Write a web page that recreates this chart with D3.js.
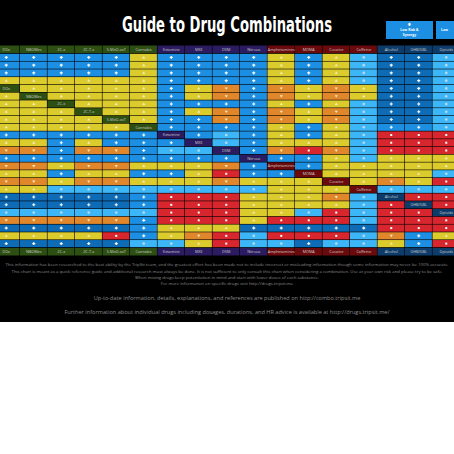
<!DOCTYPE html>
<html>
<head>
<meta charset="utf-8">
<script src="https://cdn.jsdelivr.net/npm/d3@7"></script>
<style>
  body { margin: 0; background: #fff; }
  svg { display: block; }
</style>
</head>
<body>
<svg id="chart" width="454" height="454"></svg>
<script>
// visible columns (left and right ends of the chart are cropped)
const cols = ["DOx", "NBOMes", "2C-x", "2C-T-x", "5-MeO-xxT", "Cannabis", "Ketamine", "MXE", "DXM",
  "Nitrous", "Amphetamines", "MDMA", "Cocaine", "Caffeine", "Alcohol", "GHB/GBL", "Opioids"]
const colGroup = ["psy", "psy", "psy", "psy", "psy", "psy", "dis", "dis", "dis",
  "dis", "stim", "stim", "stim", "stim", "dep", "dep", "dep"]
const rows = ["LSD", "Mushrooms", "DMT", "Mescaline", "DOx", "NBOMes", "2C-x", "2C-T-x", "5-MeO-xxT",
  "Cannabis", "Ketamine", "MXE", "DXM", "Nitrous", "Amphetamines", "MDMA", "Cocaine", "Caffeine",
  "Alcohol", "GHB/GBL", "Opioids", "Tramadol", "Benzodiazepines", "MAOIs", "SSRIs"]
// S synergy, N no synergy, D decrease, C caution, U unsafe, X dangerous, "-" same drug
const grid = [
  "SSSSSCSSSSCSCNDDN",
  "SSSSSCSSSSCSCNDDN",
  "SSSSSCSSSSCSCNDDN",
  "CCCCCCSSSSCSCNDDN",
  "-CCCCCSCUSUCUCDDN",
  "C-CCCCSCUSUCUCDDN",
  "CC-CCCSSSSCSCNDDN",
  "CCC-CCSCUSUCUNDDN",
  "CCCC-CSSUSUCUNDDN",
  "CCCCC-SSSSCSCNSSN",
  "SSSSSS-SNSCSCNXXX",
  "CCSCSSS-NSCCCNXXX",
  "UUSUUSNN-SUXUNXXX",
  "SSSSSSSSS-SSCNCCC",
  "UUCUUCCCUS-SCCCCC",
  "CCSCCSSCXSS-CCCCN",
  "UUCUUCCCUCCC-CUCX",
  "CCNNNNNNNNCCC-NNN",
  "DDDDDSXXXCCCUN-XX",
  "DDDDDSXXXCCCCNX-X",
  "NNNNNNXXXCCNXNXX-",
  "UUUUUSXXXCXXXNXXX",
  "DDDDDSCCCDDDDDXXX",
  "CCCCXSCUXNXXXNUSC",
  "DDDDDNNCXNNDNNCSX"
]
const fills = { S: "#1c8fe2", N: "#3db6f8", D: "#0e6bb6", C: "#dccb2c", U: "#e0872c", X: "#d8262e" }
const groupFill = { psy: "#2e4f12", dis: "#2b1b60", stim: "#6b0a0c", dep: "#0d3c6a" }

const svg = d3.select("#chart")
svg.append("rect").attr("width", 454).attr("height", 322).attr("fill", "#000")

const x = d3.scaleBand().domain(cols).range([-7.5, 460]).paddingInner(0)
const y = d3.scaleBand().domain(rows).range([53.5, 247.5])
const cw = x.bandwidth(), ch = y.bandwidth()

// title
svg.append("text").attr("x", 227).attr("y", 32).attr("text-anchor", "middle")
  .attr("fill", "#fff").attr("font-family", "DejaVu Sans Condensed, Liberation Sans Narrow, sans-serif")
  .attr("font-weight", "bold").attr("font-size", 21)
  .attr("textLength", 210).attr("lengthAdjust", "spacingAndGlyphs")
  .text("Guide to Drug Combinations")

// legend boxes (cropped on the right)
const leg = svg.append("g")
leg.append("rect").attr("x", 386).attr("y", 21).attr("width", 47).attr("height", 18).attr("fill", "#1c8fe2")
leg.append("rect").attr("x", 436).attr("y", 21).attr("width", 30).attr("height", 18).attr("fill", "#1c8fe2")
leg.append("path").attr("d", "M409.5,22.5 l2,2 h-1.2 v1.4 h-1.6 v-1.4 h-1.2 z").attr("fill", "#fff")
leg.append("text").attr("x", 409.5).attr("y", 31).attr("text-anchor", "middle").attr("fill", "#fff")
  .attr("font-family", "Open Sans, sans-serif").attr("font-size", 3.4).attr("font-weight", "bold").text("Low Risk &")
leg.append("text").attr("x", 409.5).attr("y", 35.6).attr("text-anchor", "middle").attr("fill", "#fff")
  .attr("font-family", "Open Sans, sans-serif").attr("font-size", 3.4).attr("font-weight", "bold").text("Synergy")
leg.append("text").attr("x", 441).attr("y", 31).attr("fill", "#fff")
  .attr("font-family", "Open Sans, sans-serif").attr("font-size", 3.4).attr("font-weight", "bold").text("Low")

// header and footer label rows
function labelRow(yy) {
  const g = svg.append("g")
  g.selectAll("rect").data(cols).enter().append("rect")
    .attr("x", d => x(d)).attr("y", yy).attr("width", cw - 0.6).attr("height", 7.5)
    .attr("fill", (d, i) => groupFill[colGroup[i]])
  g.selectAll("text").data(cols).enter().append("text")
    .attr("x", d => x(d) + cw / 2).attr("y", yy + 5.2).attr("text-anchor", "middle")
    .attr("fill", "#ccc").attr("font-family", "Open Sans, sans-serif").attr("font-size", 3.8)
    .text(d => d)
}
labelRow(45.5)
labelRow(248)

// cells
const cells = []
rows.forEach((r, i) => cols.forEach((c, j) => cells.push({ r, c, k: grid[i][j], j })))

const cg = svg.append("g")
cg.selectAll("rect").data(cells).enter().append("rect")
  .attr("x", d => x(d.c)).attr("y", d => y(d.r) + 0.3)
  .attr("width", cw - 0.6).attr("height", ch - 0.6)
  .attr("fill", d => d.k === "-" ? groupFill[colGroup[d.j]] : fills[d.k])

cg.selectAll("text").data(cells.filter(d => d.k === "-")).enter().append("text")
  .attr("x", d => x(d.c) + cw / 2).attr("y", d => y(d.r) + ch / 2 + 1.4).attr("text-anchor", "middle")
  .attr("fill", "#ccc").attr("font-family", "Open Sans, sans-serif").attr("font-size", 3.8)
  .text(d => d.c)

// small icons in each cell
const icon = {
  S: "M-1.5,0 h3 M0,-1.5 v3",
  D: "M-1.5,0 h3 M0,-1.5 v3",
  C: "M-1.6,1 L0,-1.4 L1.6,1 Z",
  U: "M-1.6,-1 L0,1.4 L1.6,-1 Z",
  X: "M-1,-1 h2 v2 h-2 Z"
}
const ig = svg.append("g")
cells.filter(d => d.k !== "-").forEach(d => {
  const cx = x(d.c) + cw / 2, cy = y(d.r) + ch / 2
  if (d.k === "N") {
    ig.append("circle").attr("cx", cx).attr("cy", cy).attr("r", 1.3).attr("fill", "#b9d9ee")
  } else if (d.k === "S" || d.k === "D") {
    ig.append("path").attr("d", icon[d.k]).attr("transform", `translate(${cx},${cy})`)
      .attr("stroke", "#fff").attr("stroke-width", 1.1).attr("fill", "none")
  } else {
    ig.append("path").attr("d", icon[d.k]).attr("transform", `translate(${cx},${cy})`)
      .attr("fill", d.k === "X" ? "#fff" : "#f2ebc0")
  }
})

// notes at the bottom
const notes = [
  { t: "This information has been researched to the best ability by the TripSit team, and the greatest effort has been made not to include incorrect or misleading information though some information may never be 100% accurate.", y: 266, s: 4.3 },
  { t: "This chart is meant as a quick reference guide and additional research must always be done. It is not sufficient to only consult this chart when considering a combination. Use at your own risk and please try to be safe.", y: 273, s: 4.3 },
  { t: "When mixing drugs keep potentiation in mind and start with lower doses of each substance.", y: 279, s: 4.3 },
  { t: "For more information on specific drugs visit http://drugs.tripsit.me", y: 285, s: 4.3 },
  { t: "Up-to-date information, details, explanations, and references are published on http://combo.tripsit.me", y: 300, s: 5.6 },
  { t: "Further information about individual drugs including dosages, durations, and HR advice is available at http://drugs.tripsit.me/", y: 314, s: 5.6 }
]
svg.append("g").selectAll("text").data(notes).enter().append("text")
  .attr("x", 227).attr("y", d => d.y).attr("text-anchor", "middle")
  .attr("fill", "#8a8a8a").attr("font-family", "Open Sans, sans-serif")
  .attr("font-size", d => d.s).text(d => d.t)
</script>
</body>
</html>
